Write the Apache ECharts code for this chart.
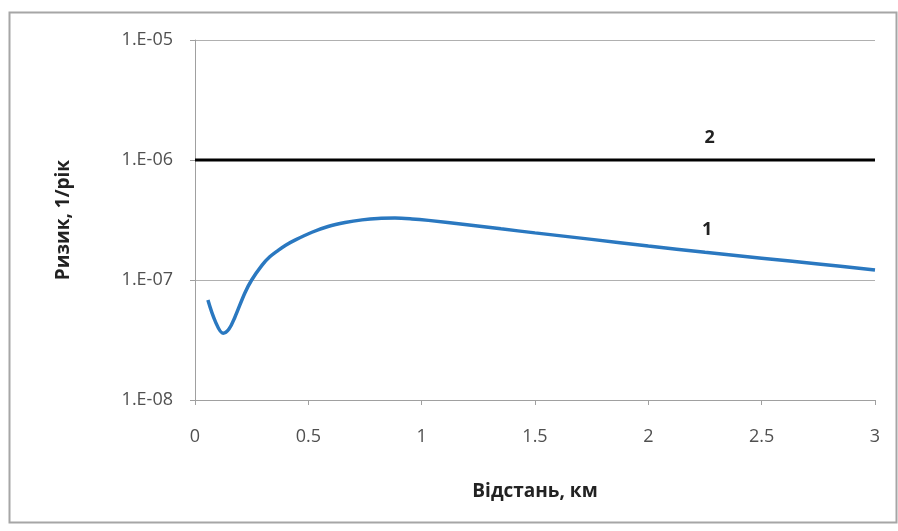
<!DOCTYPE html>
<html><head><meta charset="utf-8">
<script src="https://cdn.jsdelivr.net/npm/echarts@6/dist/echarts.min.js"></script>
<style>html,body{margin:0;padding:0;background:#fff}#c{width:898px;height:531px}</style>
</head><body><div id="c"></div>
<script>
const distance = [0.057, 0.09, 0.124, 0.15, 0.176, 0.22, 0.25, 0.296, 0.33, 0.366, 0.4, 0.441, 0.516, 0.587, 0.662, 0.737, 0.807, 0.882, 0.957, 1.03, 1.2, 1.35, 1.5, 1.75, 2.0, 2.25, 2.5, 2.75, 3.0];
const risk1 = [6.8e-8, 4.5e-8, 3.6e-8, 3.9e-8, 4.9e-8, 7.8e-8, 1.0e-7, 1.33e-7, 1.56e-7, 1.76e-7, 1.95e-7, 2.15e-7, 2.5e-7, 2.79e-7, 3.01e-7, 3.17e-7, 3.26e-7, 3.28e-7, 3.23e-7, 3.14e-7, 2.89e-7, 2.67e-7, 2.47e-7, 2.18e-7, 1.92e-7, 1.7e-7, 1.52e-7, 1.36e-7, 1.21e-7];
const line2X = [0, 3];
const line2Y = [1e-6, 1e-6];
const xTicks = [0, 0.5, 1, 1.5, 2, 2.5, 3];
const yTicks = ['1.E-08', '1.E-07', '1.E-06', '1.E-05'];

const chart = echarts.init(document.getElementById('c'), null, {renderer: 'canvas'});
const font = '"Open Sans", "Noto Sans", sans-serif';
chart.setOption({
  animation: false,
  backgroundColor: '#fff',
  graphic: [{type: 'rect', shape: {x: 9.5, y: 12.5, width: 887, height: 510}, style: {fill: 'none', stroke: '#a6a6a6', lineWidth: 2}}],
  grid: {left: 195, right: 23, top: 40, bottom: 131},
  xAxis: {
    type: 'value', min: 0, max: 3, interval: 0.5,
    name: 'Відстань, км', nameLocation: 'middle', nameGap: 82,
    nameTextStyle: {fontFamily: font, fontWeight: 'bold', fontSize: 19, color: '#222'},
    axisLine: {lineStyle: {color: '#a0a0a0', width: 1}},
    axisTick: {show: true, length: 5, lineStyle: {color: '#a0a0a0'}},
    axisLabel: {fontFamily: font, fontSize: 18, color: '#505050', margin: 28,
      formatter: v => String(xTicks.find(t => Math.abs(t - v) < 1e-9) ?? v)},
    splitLine: {show: false}
  },
  yAxis: {
    type: 'log', logBase: 10, min: 1e-8, max: 1e-5,
    name: 'Ризик, 1/рік', nameLocation: 'middle', nameGap: 122,
    nameTextStyle: {fontFamily: font, fontWeight: 'bold', fontSize: 19, color: '#222'},
    axisLine: {show: true, lineStyle: {color: '#a0a0a0', width: 1}},
    axisTick: {show: true, length: 5, lineStyle: {color: '#a0a0a0'}},
    axisLabel: {fontFamily: font, fontSize: 18, color: '#505050', margin: 22,
      formatter: v => yTicks[Math.round(Math.log10(v)) + 8]},
    splitLine: {show: true, lineStyle: {color: '#b0b0b0', width: 1}}
  },
  series: [
    {
      type: 'line', data: distance.map((x, i) => [x, risk1[i]]), smooth: 0.35,
      showSymbol: false, lineStyle: {color: '#2a78c0', width: 3.5},
      markPoint: {symbolSize: 0, label: {show: true, formatter: '1', fontFamily: font, fontWeight: 'bold', fontSize: 18, color: '#222', offset: [0, -7]},
        data: [{coord: [2.26, 2.3e-7]}]}
    },
    {
      type: 'line', data: line2X.map((x, i) => [x, line2Y[i]]),
      showSymbol: false, lineStyle: {color: '#000', width: 3},
      markPoint: {symbolSize: 0, label: {show: true, formatter: '2', fontFamily: font, fontWeight: 'bold', fontSize: 18, color: '#222', offset: [0, -22]},
        data: [{coord: [2.27, 1e-6]}]}
    }
  ]
});
</script></body></html>
